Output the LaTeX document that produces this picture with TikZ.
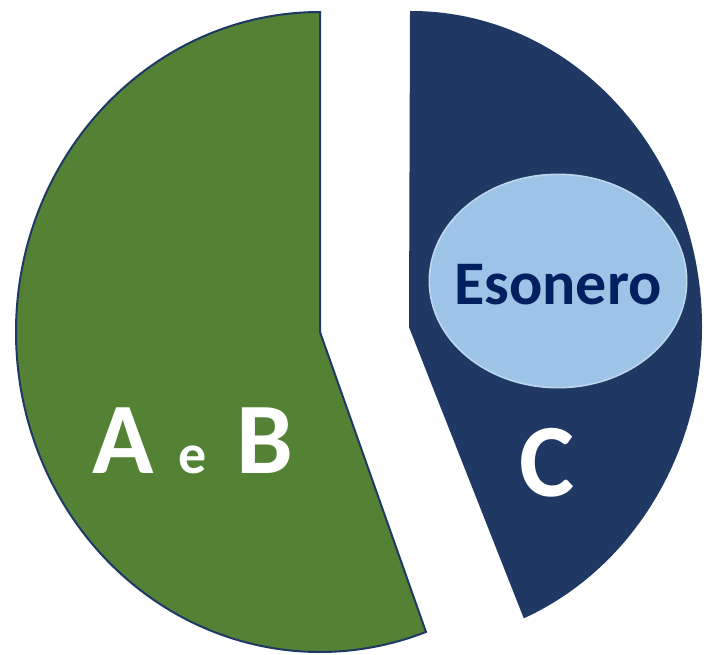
\documentclass[tikz,border=0pt]{standalone}
\usepackage{fontspec}
\setmainfont{Carlito}
\usetikzlibrary{shapes.geometric}
\definecolor{slicegreen}{HTML}{548235}
\definecolor{slicenavy}{HTML}{203864}
\definecolor{edgenavy}{HTML}{1F3864}
\definecolor{esonerofill}{HTML}{9DC3E6}
\definecolor{esoneroedge}{HTML}{BDD7EE}
\definecolor{esonerotext}{HTML}{002060}
\tikzset{
  slice/.style={draw=edgenavy, line width=1.5pt, line join=miter},
  biglabel/.style={anchor=base, text=white, font=\fontsize{76}{80}\selectfont\bfseries}
}
\begin{document}
\begin{tikzpicture}[x=0.75pt, y=0.75pt]
\useasboundingbox (0,0) rectangle (712,-654);
% the two slices
\path[slice, fill=slicegreen] (320,-332) -- (320,-12) arc[start angle=90, end angle=290.4, x radius=304, y radius=320] -- cycle;
\path[slice, fill=slicenavy] (410,-327) -- (411,-12) arc[start angle=90, end angle=-67, x radius=290, y radius=315] -- cycle;
% labels
\node[ellipse, fill=esonerofill, draw=esoneroedge, line width=1.2pt, minimum width=193pt, minimum height=160pt, inner sep=0pt] (esonero) at (558,-281) {};
\node[text=esonerotext, font=\fontsize{46.5}{50}\selectfont\bfseries, yshift=-2.5pt] (esonerolbl) at (esonero.center) {Esonero};
\node[biglabel] (ab) at (193,-473) {A\hspace{1.5pt} {\fontsize{42}{44}\selectfont e}\hspace{5pt} B};
\node[biglabel, font=\fontsize{78}{82}\selectfont\bfseries] (c) at (547,-496) {C};
\end{tikzpicture}
\end{document}
